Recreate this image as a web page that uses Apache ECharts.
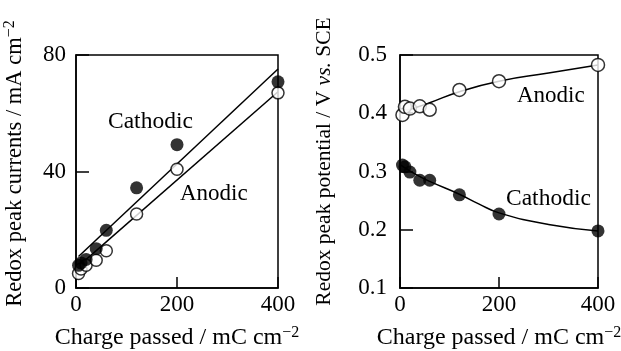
<!DOCTYPE html>
<html>
<head>
<meta charset="utf-8">
<script src="https://cdn.jsdelivr.net/npm/echarts@6/dist/echarts.min.js"></script>
<style>
html,body{margin:0;padding:0;background:#fff;}
#c{width:621px;height:351px;}
</style>
</head>
<body>
<div id="c"></div>
<script>
// Data
var charge = [5, 10, 20, 40, 60, 120, 200, 400];
var currentCathodic = [7.8, 8.6, 9.8, 13.5, 19.8, 34.4, 49.2, 70.8];
var currentAnodic = [5.0, 6.5, 7.8, 9.5, 12.8, 25.4, 40.8, 67.0];
var fitCathodicX = [5, 400];
var fitCathodicY = [10.8, 75.2];
var fitAnodicX = [5, 400];
var fitAnodicY = [7.5, 67.4];

var potAnodic = [0.397, 0.411, 0.408, 0.412, 0.406, 0.440, 0.455, 0.483];
var potCathodic = [0.311, 0.308, 0.299, 0.285, 0.285, 0.260, 0.227, 0.198];
var curveAnodicX = [10, 40, 60, 120, 200, 300, 400];
var curveAnodicY = [0.404, 0.412, 0.418, 0.437, 0.455, 0.469, 0.483];
var curveCathodicX = [0, 30, 60, 120, 160, 200, 300, 400];
var curveCathodicY = [0.312, 0.296, 0.283, 0.261, 0.244, 0.229, 0.209, 0.198];

var xTicks = [0, 200, 400];
var yTicksLeft = [0, 40, 80];
var yTicksRight = [0.1, 0.2, 0.3, 0.4, 0.5];

function pairs(xs, ys){ return xs.map(function(x,i){ return [x, ys[i]]; }); }

var FONT = '"Liberation Serif","Times New Roman",serif';
var supStyle = {fontSize: 16, fontFamily: FONT, color: '#000', verticalAlign: 'top', padding: [0,0,10,0]};

function xAxisCfg(idx){
  return {
    gridIndex: idx, type: 'value', min: 0, max: 400, interval: 200,
    name: 'Charge passed / mC cm{sup|\u22122}', nameLocation: 'middle', nameGap: 37,
    nameTextStyle: {fontFamily: FONT, fontSize: 24, color: '#000', rich: {sup: supStyle}},
    axisLine: {show: true, lineStyle: {color: '#000', width: 1.5}},
    axisTick: {show: true, inside: true, length: 11, lineStyle: {color: '#000', width: 1.5}},
    axisLabel: {fontFamily: FONT, fontSize: 23, color: '#000', margin: 5},
    splitLine: {show: false}
  };
}

var option = {
  animation: false,
  backgroundColor: '#fff',
  grid: [
    {left: 76, right: 343, top: 55, bottom: 63, show: true, borderColor: '#000', borderWidth: 1.5,
     containLabel: false, outerBoundsMode: 'none'},
    {left: 400, right: 23, top: 55, bottom: 63, show: true, borderColor: '#000', borderWidth: 1.5,
     containLabel: false, outerBoundsMode: 'none'}
  ],
  xAxis: [xAxisCfg(0), xAxisCfg(1)],
  yAxis: [
    {gridIndex: 0, type: 'value', min: 0, max: 80, interval: 40,
     name: 'Redox peak currents / mA cm{sup|\u22122}', nameLocation: 'middle', nameGap: 48,
     nameTextStyle: {fontFamily: FONT, fontSize: 22.5, color: '#000', padding: [0,0,0,16], rich: {sup: supStyle}},
     axisLine: {show: true, lineStyle: {color: '#000', width: 1.5}},
     axisTick: {show: true, inside: true, length: 13, lineStyle: {color: '#000', width: 1.5}},
     axisLabel: {fontFamily: FONT, fontSize: 23, color: '#000', margin: 10},
     splitLine: {show: false}},
    {gridIndex: 1, type: 'value', min: 0.1, max: 0.5, interval: 0.1,
     name: 'Redox peak potential / V {i|vs.} SCE', nameLocation: 'middle', nameGap: 65,
     nameTextStyle: {fontFamily: FONT, fontSize: 21.5, color: '#000', padding: [0,0,0,20],
       rich: {i: {fontFamily: FONT, fontSize: 21.5, fontStyle: 'italic', color: '#000'}}},
     axisLine: {show: true, lineStyle: {color: '#000', width: 1.5}},
     axisTick: {show: true, inside: true, length: 13, lineStyle: {color: '#000', width: 1.5}},
     axisLabel: {fontFamily: FONT, fontSize: 23, color: '#000', margin: 13,
       formatter: function(v){ return v.toFixed(1); }},
     splitLine: {show: false}}
  ],
  series: [
    {type: 'line', xAxisIndex: 0, yAxisIndex: 0, data: pairs(fitCathodicX, fitCathodicY),
     showSymbol: false, lineStyle: {color: '#000', width: 1.5}, z: 1, silent: true},
    {type: 'line', xAxisIndex: 0, yAxisIndex: 0, data: pairs(fitAnodicX, fitAnodicY),
     showSymbol: false, lineStyle: {color: '#000', width: 1.5}, z: 1, silent: true},
    {type: 'scatter', xAxisIndex: 0, yAxisIndex: 0, data: pairs(charge, currentAnodic),
     symbol: 'circle', symbolSize: 12, itemStyle: {color: '#fff', borderColor: '#000', borderWidth: 1.5}, z: 3},
    {type: 'scatter', xAxisIndex: 0, yAxisIndex: 0, data: pairs(charge, currentCathodic),
     symbol: 'circle', symbolSize: 13, itemStyle: {color: '#000'}, z: 4},

    {type: 'line', xAxisIndex: 1, yAxisIndex: 1, data: pairs(curveAnodicX, curveAnodicY),
     smooth: true, showSymbol: false, lineStyle: {color: '#000', width: 1.5}, z: 1, silent: true},
    {type: 'line', xAxisIndex: 1, yAxisIndex: 1, data: pairs(curveCathodicX, curveCathodicY),
     smooth: true, showSymbol: false, lineStyle: {color: '#000', width: 1.5}, z: 1, silent: true},
    {type: 'scatter', xAxisIndex: 1, yAxisIndex: 1, data: pairs(charge, potAnodic),
     symbol: 'circle', symbolSize: 13, itemStyle: {color: '#fff', borderColor: '#000', borderWidth: 1.5}, z: 3},
    {type: 'scatter', xAxisIndex: 1, yAxisIndex: 1, data: pairs(charge, potCathodic),
     symbol: 'circle', symbolSize: 13, itemStyle: {color: '#000'}, z: 4}
  ],
  graphic: [
    {type: 'text', left: 108, top: 110, style: {text: 'Cathodic', fontFamily: FONT, fontSize: 23.5, fill: '#000'}},
    {type: 'text', left: 180, top: 182, style: {text: 'Anodic', fontFamily: FONT, fontSize: 23, fill: '#000'}},
    {type: 'text', left: 517, top: 84, style: {text: 'Anodic', fontFamily: FONT, fontSize: 23, fill: '#000'}},
    {type: 'text', left: 506, top: 187, style: {text: 'Cathodic', fontFamily: FONT, fontSize: 23.5, fill: '#000'}}
  ]
};

var chart = echarts.init(document.getElementById('c'), null, {renderer: 'canvas'});
chart.setOption(option);
</script>
</body>
</html>
